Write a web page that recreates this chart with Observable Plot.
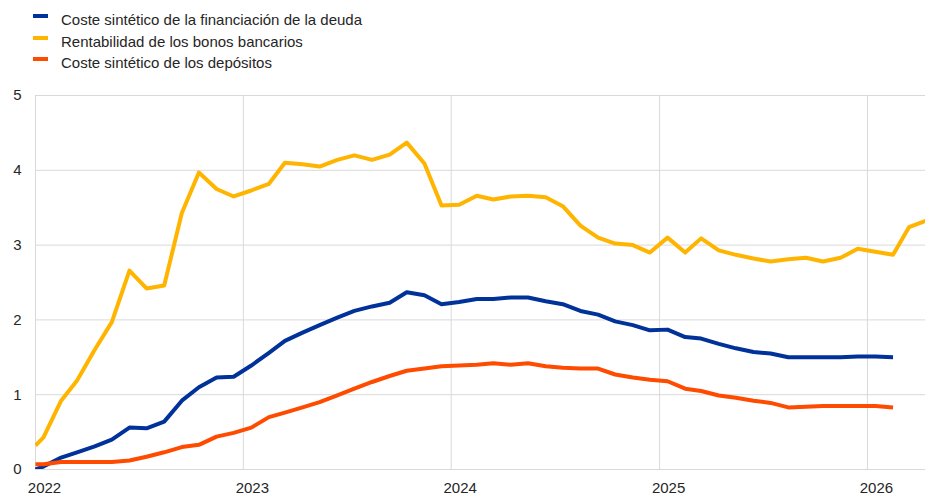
<!DOCTYPE html>
<html>
<head>
<meta charset="utf-8">
<script src="https://cdn.jsdelivr.net/npm/d3@7"></script>
<script src="https://cdn.jsdelivr.net/npm/@observablehq/plot@0.6"></script>
<style>
  html, body { margin: 0; padding: 0; background: #fff; }
  body { width: 925px; height: 495px; position: relative; overflow: hidden;
         font-family: "Liberation Sans", Arial, sans-serif; color: #262626; }
  .leg { position: absolute; left: 33px; height: 18px; line-height: 18px; font-size: 15px; white-space: nowrap; }
  .sw { position: absolute; left: 0; top: 3px; width: 15px; height: 4px; }
  .lt { position: absolute; left: 28px; top: 0; }
  #chart { position: absolute; left: 0; top: 75px; }
</style>
</head>
<body>
<div id="legend"></div>
<div id="chart"></div>
<script>
const seriesNames = [
  "Coste sintético de la financiación de la deuda",
  "Rentabilidad de los bonos bancarios",
  "Coste sintético de los depósitos"
];
const seriesColors = ["#003299", "#ffb400", "#ff4b00"];

const dates = [
  "2022-01-01",
  "2022-01-15","2022-02-15","2022-03-15","2022-04-15","2022-05-15","2022-06-15",
  "2022-07-15","2022-08-15","2022-09-15","2022-10-15","2022-11-15","2022-12-15",
  "2023-01-15","2023-02-15","2023-03-15","2023-04-15","2023-05-15","2023-06-15",
  "2023-07-15","2023-08-15","2023-09-15","2023-10-15","2023-11-15","2023-12-15",
  "2024-01-15","2024-02-15","2024-03-15","2024-04-15","2024-05-15","2024-06-15",
  "2024-07-15","2024-08-15","2024-09-15","2024-10-15","2024-11-15","2024-12-15",
  "2025-01-15","2025-02-15","2025-03-15","2025-04-15","2025-05-15","2025-06-15",
  "2025-07-15","2025-08-15","2025-09-15","2025-10-15","2025-11-15","2025-12-15",
  "2026-01-15","2026-02-15","2026-03-15","2026-04-15"
];

const costeDeuda = [
  0.00, 0.04, 0.16, 0.23, 0.31, 0.40, 0.56, 0.55, 0.64, 0.92, 1.10, 1.23, 1.24,
  1.39, 1.56, 1.72, 1.83, 1.93, 2.03, 2.12, 2.18, 2.23, 2.37, 2.33, 2.21,
  2.24, 2.28, 2.28, 2.30, 2.30, 2.25, 2.21, 2.12, 2.07, 1.98, 1.93, 1.86,
  1.87, 1.77, 1.75, 1.68, 1.62, 1.57, 1.55, 1.50, 1.50, 1.50, 1.50, 1.51,
  1.51, 1.50, null, null
];

const rentabilidadBonos = [
  0.32, 0.43, 0.92, 1.19, 1.60, 1.97, 2.66, 2.42, 2.46, 3.43, 3.97, 3.75, 3.65,
  3.73, 3.82, 4.10, 4.08, 4.05, 4.14, 4.20, 4.14, 4.21, 4.37, 4.09, 3.53,
  3.54, 3.66, 3.61, 3.65, 3.66, 3.64, 3.52, 3.26, 3.10, 3.02, 3.00, 2.90,
  3.10, 2.90, 3.09, 2.93, 2.87, 2.82, 2.78, 2.81, 2.83, 2.78, 2.83, 2.95,
  2.91, 2.87, 3.24, 3.33
];

const costeDepositos = [
  0.07, 0.07, 0.10, 0.10, 0.10, 0.10, 0.12, 0.17, 0.23, 0.30, 0.33, 0.44, 0.49,
  0.56, 0.70, 0.76, 0.83, 0.90, 0.99, 1.08, 1.17, 1.25, 1.32, 1.35, 1.38,
  1.39, 1.40, 1.42, 1.40, 1.42, 1.38, 1.36, 1.35, 1.35, 1.27, 1.23, 1.20,
  1.18, 1.08, 1.05, 0.99, 0.96, 0.92, 0.89, 0.83, 0.84, 0.85, 0.85, 0.85,
  0.85, 0.83, null, null
];

const yTicks = [0, 1, 2, 3, 4, 5];
const xTickYears = ["2022-01-01", "2023-01-01", "2024-01-01", "2025-01-01", "2026-01-01"];
const xDomain = ["2022-01-01", "2026-04-13"];

// Legend
const legend = document.getElementById("legend");
seriesNames.forEach((name, i) => {
  const row = document.createElement("div");
  row.className = "leg";
  row.style.top = (11 + i * 21.5) + "px";
  row.innerHTML = `<span class="sw" style="background:${seriesColors[i]}"></span><span class="lt"></span>`;
  row.querySelector(".lt").textContent = name;
  legend.appendChild(row);
});

const toRows = (vals) => dates.map((d, i) => ({date: new Date(d), value: vals[i]})).filter(r => r.value != null);
const lineOpts = (color) => ({x: "date", y: "value", stroke: color, strokeWidth: 4, strokeLinejoin: "round", strokeLinecap: "butt", clip: true});
const xTicks = xTickYears.map(d => new Date(d));

const chart = Plot.plot({
  width: 925,
  height: 420,
  marginLeft: 35,
  marginRight: 0,
  marginTop: 20,
  marginBottom: 26,
  style: {fontSize: "15px", fontFamily: "'Liberation Sans', Arial, sans-serif", color: "#262626", background: "transparent"},
  x: {type: "utc", domain: xDomain.map(d => new Date(d))},
  y: {domain: [0, 5]},
  marks: [
    Plot.gridY(yTicks, {stroke: "#d9d9d9", strokeOpacity: 1, strokeWidth: 1}),
    Plot.gridX(xTicks, {stroke: "#d9d9d9", strokeOpacity: 1, strokeWidth: 1}),
    Plot.axisY(yTicks, {tickSize: 0, tickPadding: 14, tickFormat: d => String(d), label: null}),
    Plot.axisX(xTicks, {tickSize: 0, tickPadding: 13, tickFormat: d3.utcFormat("%Y"), dx: 9, label: null}),
    Plot.line(toRows(rentabilidadBonos), lineOpts(seriesColors[1])),
    Plot.line(toRows(costeDeuda), lineOpts(seriesColors[0])),
    Plot.line(toRows(costeDepositos), lineOpts(seriesColors[2]))
  ]
});
document.getElementById("chart").appendChild(chart);
</script>
</body>
</html>
